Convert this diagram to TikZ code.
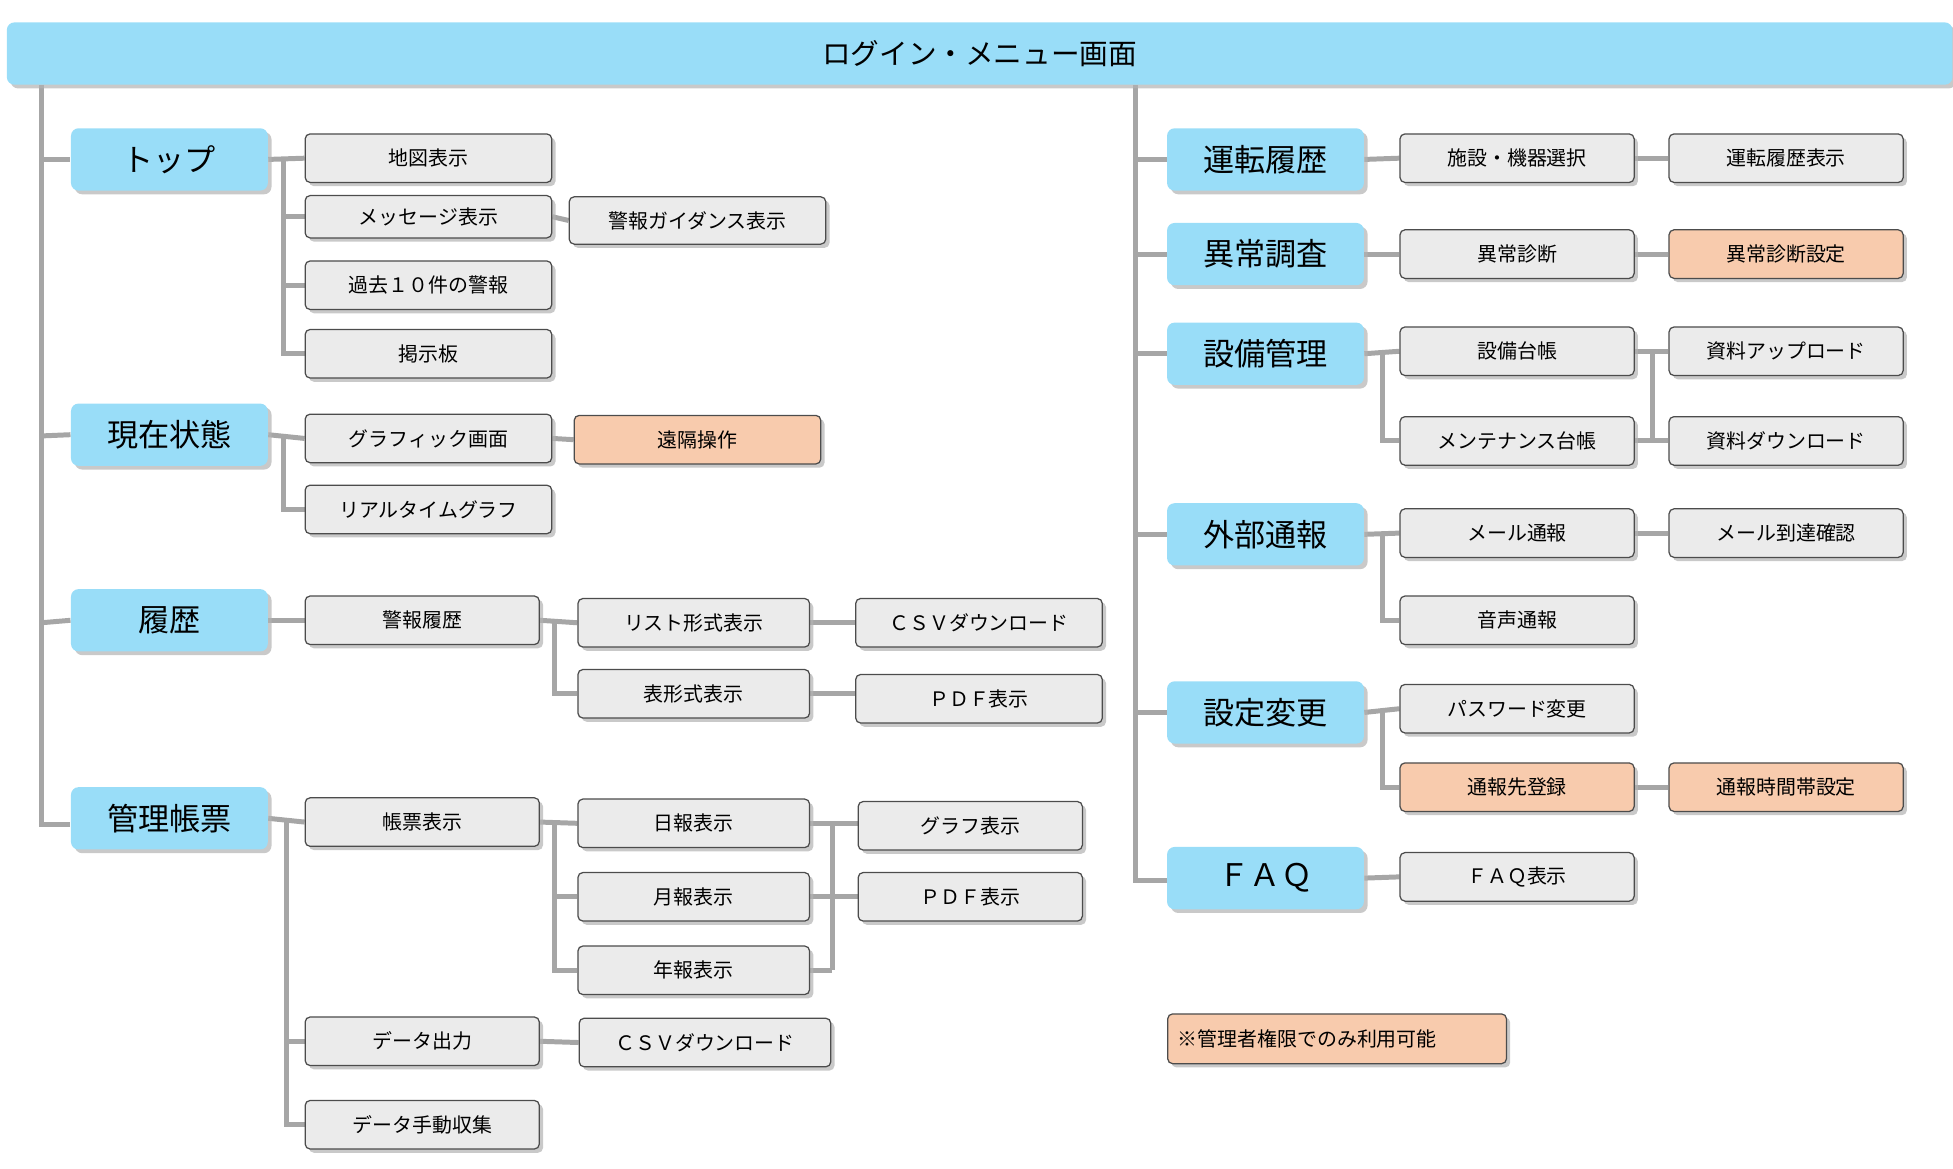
\documentclass[tikz,border=0pt]{standalone}
\usepackage{fontspec}
\setmainfont{Noto Sans CJK JP}
\usetikzlibrary{shadows,backgrounds}
\definecolor{bl}{HTML}{99DDF8}
\definecolor{gy}{HTML}{EBEBEB}
\definecolor{og}{HTML}{F8CBAD}
\definecolor{ln}{HTML}{A6A6A6}
\begin{document}
\begin{tikzpicture}[x=0.5pt,y=-0.5pt,
 sh/.style={drop shadow={shadow xshift=1.5pt,shadow yshift=-1.5pt,fill=gray!60,opacity=0.7}},
 main/.style={sh,fill=bl,rounded corners=3pt,minimum width=79pt,minimum height=25pt,font=\fontsize{12.5}{14}\selectfont,inner sep=0pt},
 sub/.style={sh,fill=gy,draw=black!70,line width=0.5pt,rounded corners=2pt,minimum width=99pt,minimum height=19.5pt,font=\fontsize{8}{9}\selectfont,inner sep=0pt},
 sub2/.style={sub,minimum width=94pt},
 sub3/.style={sub,minimum width=93pt},
 org/.style={fill=og},
 con/.style={draw=ln,line width=2pt}]
\useasboundingbox (0,0) rectangle (1568,938);
\node[sh,fill=bl,rounded corners=3pt,minimum width=781pt,minimum height=25pt,font=\fontsize{11.5}{13}\selectfont,inner sep=0pt] (title) at (786.5,43) {ログイン・メニュー画面};
\coordinate (lt) at (33,68); \coordinate (rt) at (912,68);
% left
\node[main] (top) at (136,128) {トップ};
\node[main] (gen) at (136,349) {現在状態};
\node[main] (rek) at (136,498) {履歴};
\node[main] (kan) at (136,657) {管理帳票};
\node[sub] (a1) at (344,127) {地図表示};
\node[sub,minimum height=17pt] (a2) at (344,174) {メッセージ表示};
\node[sub,minimum width=103pt,minimum height=19pt] (a2b) at (560,177) {警報ガイダンス表示};
\node[sub] (a3) at (344,229) {過去１０件の警報};
\node[sub] (a4) at (344,284) {掲示板};
\node[sub] (b1) at (344,352) {グラフィック画面};
\node[sub,org] (b1b) at (560,353) {遠隔操作};
\node[sub] (b2) at (344,409) {リアルタイムグラフ};
\node[sub2] (c1) at (339,498) {警報履歴};
\node[sub3] (c2) at (557,500) {リスト形式表示};
\node[sub3] (c3) at (557,557) {表形式表示};
\node[sub] (c4) at (786,500) {ＣＳＶダウンロード};
\node[sub] (c5) at (786,561) {ＰＤＦ表示};
\node[sub2] (d1) at (339,660) {帳票表示};
\node[sub3] (d2) at (557,661) {日報表示};
\node[sub3] (d3) at (557,720) {月報表示};
\node[sub3] (d4) at (557,779) {年報表示};
\node[sub,minimum width=90pt] (d5) at (779,663) {グラフ表示};
\node[sub,minimum width=90pt] (d6) at (779,720) {ＰＤＦ表示};
\node[sub2] (d7) at (339,836) {データ出力};
\node[sub,minimum width=101pt] (d8) at (566,837) {ＣＳＶダウンロード};
\node[sub2] (d9) at (339,903) {データ手動収集};
% right
\node[main] (unt) at (1016,128) {運転履歴};
\node[main] (ijo) at (1016,204) {異常調査};
\node[main] (set) at (1016,284) {設備管理};
\node[main] (gai) at (1016,429) {外部通報};
\node[main] (hen) at (1016,572) {設定変更};
\node[main] (faq) at (1016,705) {ＦＡＱ};
\node[sub2] (e1) at (1218,127) {施設・機器選択};
\node[sub2] (e2) at (1434,127) {運転履歴表示};
\node[sub2] (f1) at (1218,204) {異常診断};
\node[sub2,org] (f2) at (1434,204) {異常診断設定};
\node[sub2] (g1) at (1218,282) {設備台帳};
\node[sub2] (g2) at (1218,354) {メンテナンス台帳};
\node[sub2] (g3) at (1434,282) {資料アップロード};
\node[sub2] (g4) at (1434,354) {資料ダウンロード};
\node[sub2] (h1) at (1218,428) {メール通報};
\node[sub2] (h2) at (1434,428) {メール到達確認};
\node[sub2] (h3) at (1218,498) {音声通報};
\node[sub2] (i1) at (1218,569) {パスワード変更};
\node[sub2,org] (i2) at (1218,632) {通報先登録};
\node[sub2,org] (i3) at (1434,632) {通報時間帯設定};
\node[sub2] (j1) at (1218,704) {ＦＡＱ表示};
\node[sub,org,minimum width=136pt,minimum height=20pt,anchor=west,text width=128pt,align=left] (note) at (937,834) {※管理者権限でのみ利用可能};
% connectors
\begin{pgfonlayer}{background}
\draw[con] (lt) -- (33,662) -- (kan.west |- 0,662);
\draw[con] (33,128) -- (top.west); \draw[con] (33,350) -- (gen.west); \draw[con] (33,500) -- (rek.west);
\draw[con] (top.east) -- (a1.west);
\draw[con] (228,128) |- (a4.west); \draw[con] (228,174) -- (a2.west); \draw[con] (228,229) -- (a3.west);
\draw[con] (a2.east) -- (a2b.west);
\draw[con] (gen.east) -- (b1.west); \draw[con] (228,352) |- (b2.west); \draw[con] (b1.east) -- (b1b.west);
\draw[con] (rek.east) -- (c1.west); \draw[con] (c1.east) -- (c2.west); \draw[con] (445,500) |- (c3.west);
\draw[con] (c2.east) -- (c4.west); \draw[con] (c3.east) -- (c5.west |- c3.east);
\draw[con] (kan.east) -- (d1.west); \draw[con] (230,660) |- (d9.west); \draw[con] (230,836) -- (d7.west);
\draw[con] (d1.east) -- (d2.west); \draw[con] (445,661) |- (d4.west); \draw[con] (445,720) -- (d3.west);
\draw[con] (d2.east) -- (d5.west |- d2.east); \draw[con] (668,779) -- (d4.east);
\draw[con] (668,661) -- (668,779); \draw[con] (d3.east) -- (d6.west);
\draw[con] (d7.east) -- (d8.west);
\draw[con] (rt) -- (912,707) -- (faq.west |- 0,707);
\foreach \n in {unt,ijo,set,gai,hen} \draw[con] (912,0 |- \n.west) -- (\n.west);
\draw[con] (unt.east) -- (e1.west); \draw[con] (e1.east) -- (e2.west);
\draw[con] (ijo.east) -- (f1.west); \draw[con] (f1.east) -- (f2.west);
\draw[con] (set.east) -- (g1.west); \draw[con] (1110,284) |- (g2.west);
\draw[con] (g1.east) -- (g3.west); \draw[con] (1327,282) |- (g2.east); \draw[con] (1327,354) -- (g4.west);
\draw[con] (gai.east) -- (h1.west); \draw[con] (h1.east) -- (h2.west); \draw[con] (1110,429) |- (h3.west);
\draw[con] (hen.east) -- (i1.west); \draw[con] (1110,572) |- (i2.west); \draw[con] (i2.east) -- (i3.west);
\draw[con] (faq.east) -- (j1.west);
\end{pgfonlayer}
\end{tikzpicture}
\end{document}
